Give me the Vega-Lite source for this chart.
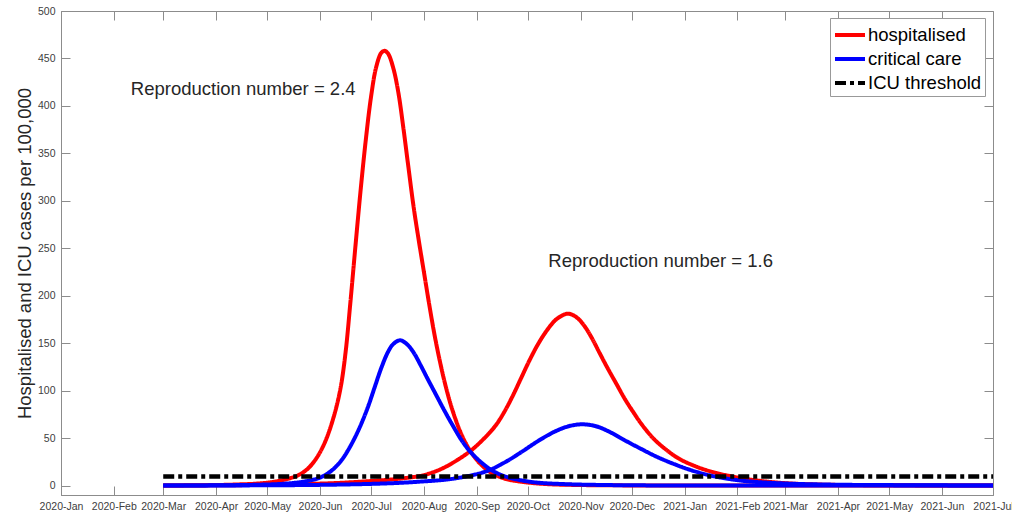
{
  "$schema": "https://vega.github.io/schema/vega-lite/v6.json",
  "width": 932,
  "height": 484,
  "autosize": {"type": "none"},
  "padding": {"left": 61, "top": 11, "right": 19, "bottom": 22},
  "background": "white",
  "config": {
    "view": {"stroke": "#8c8c8c", "strokeWidth": 1},
    "font": "Liberation Sans",
    "legend": {
      "orient": "none",
      "legendX": 769,
      "legendY": 7,
      "strokeColor": "#999999",
      "fillColor": "white",
      "padding": 3,
      "rowPadding": 0,
      "labelFontSize": 18.5,
      "labelColor": "#000000",
      "labelFont": "Liberation Sans",
      "labelOffset": 7,
      "symbolType": "M-1,0H1.5",
      "symbolSize": 576,
      "symbolStrokeWidth": 4,
      "title": null
    }
  },
  "datasets": {
    "curves": [
      {"date": "2020-03-01", "value": 0, "series": "hospitalised", "wave": "2.4"},
      {"date": "2020-04-01", "value": 0.5, "series": "hospitalised", "wave": "2.4"},
      {"date": "2020-04-15", "value": 1.2, "series": "hospitalised", "wave": "2.4"},
      {"date": "2020-04-25", "value": 2, "series": "hospitalised", "wave": "2.4"},
      {"date": "2020-05-05", "value": 4, "series": "hospitalised", "wave": "2.4"},
      {"date": "2020-05-15", "value": 8, "series": "hospitalised", "wave": "2.4"},
      {"date": "2020-05-20", "value": 11.5, "series": "hospitalised", "wave": "2.4"},
      {"date": "2020-05-25", "value": 18, "series": "hospitalised", "wave": "2.4"},
      {"date": "2020-05-30", "value": 29, "series": "hospitalised", "wave": "2.4"},
      {"date": "2020-06-04", "value": 46, "series": "hospitalised", "wave": "2.4"},
      {"date": "2020-06-09", "value": 72, "series": "hospitalised", "wave": "2.4"},
      {"date": "2020-06-13", "value": 102, "series": "hospitalised", "wave": "2.4"},
      {"date": "2020-06-16", "value": 140, "series": "hospitalised", "wave": "2.4"},
      {"date": "2020-06-19", "value": 196, "series": "hospitalised", "wave": "2.4"},
      {"date": "2020-06-22", "value": 256, "series": "hospitalised", "wave": "2.4"},
      {"date": "2020-06-25", "value": 314, "series": "hospitalised", "wave": "2.4"},
      {"date": "2020-06-28", "value": 366, "series": "hospitalised", "wave": "2.4"},
      {"date": "2020-07-01", "value": 410, "series": "hospitalised", "wave": "2.4"},
      {"date": "2020-07-04", "value": 441, "series": "hospitalised", "wave": "2.4"},
      {"date": "2020-07-07", "value": 456, "series": "hospitalised", "wave": "2.4"},
      {"date": "2020-07-09", "value": 458, "series": "hospitalised", "wave": "2.4"},
      {"date": "2020-07-11", "value": 455, "series": "hospitalised", "wave": "2.4"},
      {"date": "2020-07-14", "value": 440, "series": "hospitalised", "wave": "2.4"},
      {"date": "2020-07-17", "value": 414, "series": "hospitalised", "wave": "2.4"},
      {"date": "2020-07-20", "value": 376, "series": "hospitalised", "wave": "2.4"},
      {"date": "2020-07-23", "value": 334, "series": "hospitalised", "wave": "2.4"},
      {"date": "2020-07-26", "value": 293, "series": "hospitalised", "wave": "2.4"},
      {"date": "2020-07-29", "value": 258, "series": "hospitalised", "wave": "2.4"},
      {"date": "2020-08-01", "value": 225, "series": "hospitalised", "wave": "2.4"},
      {"date": "2020-08-04", "value": 192, "series": "hospitalised", "wave": "2.4"},
      {"date": "2020-08-07", "value": 161, "series": "hospitalised", "wave": "2.4"},
      {"date": "2020-08-10", "value": 134, "series": "hospitalised", "wave": "2.4"},
      {"date": "2020-08-14", "value": 103, "series": "hospitalised", "wave": "2.4"},
      {"date": "2020-08-18", "value": 78, "series": "hospitalised", "wave": "2.4"},
      {"date": "2020-08-23", "value": 54, "series": "hospitalised", "wave": "2.4"},
      {"date": "2020-08-28", "value": 37, "series": "hospitalised", "wave": "2.4"},
      {"date": "2020-09-03", "value": 23, "series": "hospitalised", "wave": "2.4"},
      {"date": "2020-09-09", "value": 14, "series": "hospitalised", "wave": "2.4"},
      {"date": "2020-09-17", "value": 7.5, "series": "hospitalised", "wave": "2.4"},
      {"date": "2020-09-27", "value": 4, "series": "hospitalised", "wave": "2.4"},
      {"date": "2020-10-12", "value": 1.5, "series": "hospitalised", "wave": "2.4"},
      {"date": "2020-11-01", "value": 0.5, "series": "hospitalised", "wave": "2.4"},
      {"date": "2020-12-01", "value": 0.1, "series": "hospitalised", "wave": "2.4"},
      {"date": "2021-01-01", "value": 0, "series": "hospitalised", "wave": "2.4"},
      {"date": "2021-07-01", "value": 0, "series": "hospitalised", "wave": "2.4"},

      {"date": "2020-03-01", "value": 0, "series": "hospitalised", "wave": "1.6"},
      {"date": "2020-04-10", "value": 0.3, "series": "hospitalised", "wave": "1.6"},
      {"date": "2020-05-10", "value": 1, "series": "hospitalised", "wave": "1.6"},
      {"date": "2020-06-09", "value": 2.5, "series": "hospitalised", "wave": "1.6"},
      {"date": "2020-06-29", "value": 4.5, "series": "hospitalised", "wave": "1.6"},
      {"date": "2020-07-14", "value": 6.5, "series": "hospitalised", "wave": "1.6"},
      {"date": "2020-07-24", "value": 8.5, "series": "hospitalised", "wave": "1.6"},
      {"date": "2020-07-31", "value": 10.5, "series": "hospitalised", "wave": "1.6"},
      {"date": "2020-08-10", "value": 16.5, "series": "hospitalised", "wave": "1.6"},
      {"date": "2020-08-18", "value": 24, "series": "hospitalised", "wave": "1.6"},
      {"date": "2020-08-28", "value": 36, "series": "hospitalised", "wave": "1.6"},
      {"date": "2020-09-05", "value": 49, "series": "hospitalised", "wave": "1.6"},
      {"date": "2020-09-12", "value": 63, "series": "hospitalised", "wave": "1.6"},
      {"date": "2020-09-17", "value": 77, "series": "hospitalised", "wave": "1.6"},
      {"date": "2020-09-22", "value": 94, "series": "hospitalised", "wave": "1.6"},
      {"date": "2020-09-27", "value": 113, "series": "hospitalised", "wave": "1.6"},
      {"date": "2020-10-02", "value": 132, "series": "hospitalised", "wave": "1.6"},
      {"date": "2020-10-07", "value": 149, "series": "hospitalised", "wave": "1.6"},
      {"date": "2020-10-12", "value": 163, "series": "hospitalised", "wave": "1.6"},
      {"date": "2020-10-17", "value": 174, "series": "hospitalised", "wave": "1.6"},
      {"date": "2020-10-21", "value": 179, "series": "hospitalised", "wave": "1.6"},
      {"date": "2020-10-24", "value": 181, "series": "hospitalised", "wave": "1.6"},
      {"date": "2020-10-27", "value": 180, "series": "hospitalised", "wave": "1.6"},
      {"date": "2020-10-31", "value": 175, "series": "hospitalised", "wave": "1.6"},
      {"date": "2020-11-04", "value": 166, "series": "hospitalised", "wave": "1.6"},
      {"date": "2020-11-08", "value": 154, "series": "hospitalised", "wave": "1.6"},
      {"date": "2020-11-12", "value": 140, "series": "hospitalised", "wave": "1.6"},
      {"date": "2020-11-17", "value": 123, "series": "hospitalised", "wave": "1.6"},
      {"date": "2020-11-22", "value": 107, "series": "hospitalised", "wave": "1.6"},
      {"date": "2020-11-27", "value": 91, "series": "hospitalised", "wave": "1.6"},
      {"date": "2020-12-02", "value": 77, "series": "hospitalised", "wave": "1.6"},
      {"date": "2020-12-07", "value": 64, "series": "hospitalised", "wave": "1.6"},
      {"date": "2020-12-14", "value": 49, "series": "hospitalised", "wave": "1.6"},
      {"date": "2020-12-21", "value": 38, "series": "hospitalised", "wave": "1.6"},
      {"date": "2020-12-28", "value": 29, "series": "hospitalised", "wave": "1.6"},
      {"date": "2021-01-05", "value": 22, "series": "hospitalised", "wave": "1.6"},
      {"date": "2021-01-15", "value": 15.5, "series": "hospitalised", "wave": "1.6"},
      {"date": "2021-01-29", "value": 9.5, "series": "hospitalised", "wave": "1.6"},
      {"date": "2021-02-14", "value": 5, "series": "hospitalised", "wave": "1.6"},
      {"date": "2021-03-01", "value": 2.5, "series": "hospitalised", "wave": "1.6"},
      {"date": "2021-03-21", "value": 1, "series": "hospitalised", "wave": "1.6"},
      {"date": "2021-04-25", "value": 0.3, "series": "hospitalised", "wave": "1.6"},
      {"date": "2021-07-01", "value": 0, "series": "hospitalised", "wave": "1.6"},

      {"date": "2020-03-01", "value": 0, "series": "critical care", "wave": "2.4"},
      {"date": "2020-04-01", "value": 0.2, "series": "critical care", "wave": "2.4"},
      {"date": "2020-04-25", "value": 0.8, "series": "critical care", "wave": "2.4"},
      {"date": "2020-05-10", "value": 1.8, "series": "critical care", "wave": "2.4"},
      {"date": "2020-05-20", "value": 3.5, "series": "critical care", "wave": "2.4"},
      {"date": "2020-05-30", "value": 7, "series": "critical care", "wave": "2.4"},
      {"date": "2020-06-04", "value": 11, "series": "critical care", "wave": "2.4"},
      {"date": "2020-06-09", "value": 17.5, "series": "critical care", "wave": "2.4"},
      {"date": "2020-06-14", "value": 27.5, "series": "critical care", "wave": "2.4"},
      {"date": "2020-06-19", "value": 42, "series": "critical care", "wave": "2.4"},
      {"date": "2020-06-24", "value": 60, "series": "critical care", "wave": "2.4"},
      {"date": "2020-06-29", "value": 82, "series": "critical care", "wave": "2.4"},
      {"date": "2020-07-03", "value": 103, "series": "critical care", "wave": "2.4"},
      {"date": "2020-07-07", "value": 124, "series": "critical care", "wave": "2.4"},
      {"date": "2020-07-11", "value": 141, "series": "critical care", "wave": "2.4"},
      {"date": "2020-07-14", "value": 149, "series": "critical care", "wave": "2.4"},
      {"date": "2020-07-18", "value": 153, "series": "critical care", "wave": "2.4"},
      {"date": "2020-07-22", "value": 149, "series": "critical care", "wave": "2.4"},
      {"date": "2020-07-26", "value": 140, "series": "critical care", "wave": "2.4"},
      {"date": "2020-07-30", "value": 127, "series": "critical care", "wave": "2.4"},
      {"date": "2020-08-03", "value": 113, "series": "critical care", "wave": "2.4"},
      {"date": "2020-08-08", "value": 96, "series": "critical care", "wave": "2.4"},
      {"date": "2020-08-13", "value": 79, "series": "critical care", "wave": "2.4"},
      {"date": "2020-08-18", "value": 63, "series": "critical care", "wave": "2.4"},
      {"date": "2020-08-23", "value": 48, "series": "critical care", "wave": "2.4"},
      {"date": "2020-08-28", "value": 36, "series": "critical care", "wave": "2.4"},
      {"date": "2020-09-02", "value": 27, "series": "critical care", "wave": "2.4"},
      {"date": "2020-09-09", "value": 17, "series": "critical care", "wave": "2.4"},
      {"date": "2020-09-17", "value": 10, "series": "critical care", "wave": "2.4"},
      {"date": "2020-09-27", "value": 5.5, "series": "critical care", "wave": "2.4"},
      {"date": "2020-10-07", "value": 3, "series": "critical care", "wave": "2.4"},
      {"date": "2020-10-22", "value": 1.5, "series": "critical care", "wave": "2.4"},
      {"date": "2020-11-16", "value": 0.5, "series": "critical care", "wave": "2.4"},
      {"date": "2021-01-01", "value": 0, "series": "critical care", "wave": "2.4"},
      {"date": "2021-07-01", "value": 0, "series": "critical care", "wave": "2.4"},

      {"date": "2020-03-01", "value": 0, "series": "critical care", "wave": "1.6"},
      {"date": "2020-05-10", "value": 0.3, "series": "critical care", "wave": "1.6"},
      {"date": "2020-06-19", "value": 1.2, "series": "critical care", "wave": "1.6"},
      {"date": "2020-07-14", "value": 2.5, "series": "critical care", "wave": "1.6"},
      {"date": "2020-07-29", "value": 4, "series": "critical care", "wave": "1.6"},
      {"date": "2020-08-13", "value": 6, "series": "critical care", "wave": "1.6"},
      {"date": "2020-08-22", "value": 8.3, "series": "critical care", "wave": "1.6"},
      {"date": "2020-09-02", "value": 12.5, "series": "critical care", "wave": "1.6"},
      {"date": "2020-09-09", "value": 16.6, "series": "critical care", "wave": "1.6"},
      {"date": "2020-09-19", "value": 26, "series": "critical care", "wave": "1.6"},
      {"date": "2020-09-27", "value": 35, "series": "critical care", "wave": "1.6"},
      {"date": "2020-10-08", "value": 48, "series": "critical care", "wave": "1.6"},
      {"date": "2020-10-17", "value": 57, "series": "critical care", "wave": "1.6"},
      {"date": "2020-10-25", "value": 62.5, "series": "critical care", "wave": "1.6"},
      {"date": "2020-11-02", "value": 64.5, "series": "critical care", "wave": "1.6"},
      {"date": "2020-11-10", "value": 62.5, "series": "critical care", "wave": "1.6"},
      {"date": "2020-11-18", "value": 56.5, "series": "critical care", "wave": "1.6"},
      {"date": "2020-11-26", "value": 48.5, "series": "critical care", "wave": "1.6"},
      {"date": "2020-12-06", "value": 39, "series": "critical care", "wave": "1.6"},
      {"date": "2020-12-16", "value": 30, "series": "critical care", "wave": "1.6"},
      {"date": "2020-12-26", "value": 22.5, "series": "critical care", "wave": "1.6"},
      {"date": "2021-01-04", "value": 16.6, "series": "critical care", "wave": "1.6"},
      {"date": "2021-01-15", "value": 11, "series": "critical care", "wave": "1.6"},
      {"date": "2021-01-24", "value": 7.8, "series": "critical care", "wave": "1.6"},
      {"date": "2021-02-04", "value": 5, "series": "critical care", "wave": "1.6"},
      {"date": "2021-02-24", "value": 2.5, "series": "critical care", "wave": "1.6"},
      {"date": "2021-03-26", "value": 1, "series": "critical care", "wave": "1.6"},
      {"date": "2021-05-15", "value": 0.3, "series": "critical care", "wave": "1.6"},
      {"date": "2021-07-01", "value": 0, "series": "critical care", "wave": "1.6"},

      {"date": "2020-03-01", "value": 9.5, "series": "ICU threshold", "wave": "t"},
      {"date": "2021-07-01", "value": 9.5, "series": "ICU threshold", "wave": "t"}
    ],
    "notes": [
      {"date": "2020-02-11", "value": 411, "label": "Reproduction number = 2.4"},
      {"date": "2020-10-13", "value": 230, "label": "Reproduction number = 1.6"}
    ]
  },
  "layer": [
    {
      "data": {"name": "curves"},
      "transform": [{"filter": "datum.series === 'hospitalised'"}],
      "mark": {"type": "line", "interpolate": "catmull-rom", "strokeWidth": 4},
      "encoding": {
        "x": {
          "field": "date", "type": "temporal",
          "scale": {"type": "utc", "domain": [{"year": 2020, "month": 1, "date": 1, "utc": true}, {"year": 2021, "month": 7, "date": 1, "utc": true}], "nice": false},
          "axis": {
            "orient": "bottom", "title": null, "grid": false,
            "format": "%Y-%b",
            "tickCount": {"interval": "month", "step": 1},
            "tickSize": -9, "labelPadding": 15,
            "labelOverlap": false, "labelFlush": false, "labelBound": false,
            "labelFontSize": 10.5, "labelColor": "#404040", "labelFont": "Liberation Sans",
            "domainColor": "#8c8c8c", "tickColor": "#8c8c8c"
          }
        },
        "y": {
          "field": "value", "type": "quantitative",
          "scale": {"domain": [-10, 500], "nice": false, "zero": false},
          "axis": {
            "orient": "left", "grid": false,
            "values": [0, 50, 100, 150, 200, 250, 300, 350, 400, 450, 500],
            "tickSize": -9, "labelPadding": 15,
            "labelFontSize": 10.5, "labelColor": "#404040", "labelFont": "Liberation Sans",
            "domainColor": "#8c8c8c", "tickColor": "#8c8c8c",
            "title": "Hospitalised and ICU cases per 100,000",
            "titleFont": "Liberation Sans", "titleFontSize": 18.5, "titleFontWeight": "normal",
            "titleColor": "#262626", "titleX": -37, "titleY": 242, "titleAngle": -90,
            "titleAlign": "center", "titleBaseline": "middle"
          }
        },
        "color": {
          "field": "series", "type": "nominal",
          "scale": {"domain": ["hospitalised", "critical care", "ICU threshold"], "range": ["#ff0000", "#0000ff", "#000000"]},
          "legend": {"orient": "none", "legendX": 769, "legendY": 7, "title": null}
        },
        "strokeDash": {
          "field": "series", "type": "nominal",
          "scale": {"domain": ["hospitalised", "critical care", "ICU threshold"], "range": [[1, 0], [1, 0], [11, 4, 4, 4]]},
          "legend": {"orient": "none", "legendX": 769, "legendY": 7, "title": null}
        },
        "detail": {"field": "wave"}
      }
    },
    {
      "data": {"name": "curves"},
      "transform": [{"filter": "datum.series === 'critical care'"}],
      "mark": {"type": "line", "interpolate": "catmull-rom", "strokeWidth": 4},
      "encoding": {
        "x": {
          "field": "date", "type": "temporal",
          "axis": {
            "orient": "top", "title": null, "grid": false, "labels": false, "domain": false,
            "tickCount": {"interval": "month", "step": 1},
            "tickSize": -9, "tickColor": "#8c8c8c"
          }
        },
        "y": {
          "field": "value", "type": "quantitative",
          "axis": {
            "orient": "right", "title": null, "grid": false, "labels": false, "domain": false,
            "values": [0, 50, 100, 150, 200, 250, 300, 350, 400, 450, 500],
            "tickSize": -9, "tickColor": "#8c8c8c"
          }
        },
        "color": {"field": "series", "type": "nominal", "legend": {"orient": "none", "legendX": 769, "legendY": 7, "title": null}},
        "strokeDash": {"field": "series", "type": "nominal", "legend": {"orient": "none", "legendX": 769, "legendY": 7, "title": null}},
        "detail": {"field": "wave"}
      }
    },
    {
      "data": {"name": "curves"},
      "transform": [{"filter": "datum.series === 'ICU threshold'"}],
      "mark": {"type": "line", "strokeWidth": 4.5},
      "encoding": {
        "x": {"field": "date", "type": "temporal", "axis": null},
        "y": {"field": "value", "type": "quantitative", "axis": null},
        "color": {"field": "series", "type": "nominal", "legend": {"orient": "none", "legendX": 769, "legendY": 7, "title": null}},
        "strokeDash": {"field": "series", "type": "nominal", "legend": {"orient": "none", "legendX": 769, "legendY": 7, "title": null}},
        "detail": {"field": "wave"}
      }
    },
    {
      "data": {"name": "notes"},
      "mark": {"type": "text", "align": "left", "baseline": "alphabetic", "fontSize": 18.5, "font": "Liberation Sans", "color": "#262626"},
      "encoding": {
        "x": {"field": "date", "type": "temporal", "axis": null},
        "y": {"field": "value", "type": "quantitative", "axis": null},
        "text": {"field": "label"}
      }
    }
  ],
  "resolve": {"axis": {"x": "independent", "y": "independent"}}
}
